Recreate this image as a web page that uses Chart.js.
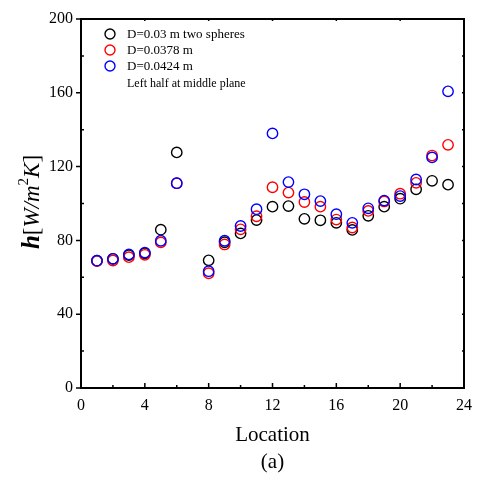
<!DOCTYPE html>
<html><head><meta charset="utf-8">
<script src="https://cdn.jsdelivr.net/npm/chart.js@4.4.0/dist/chart.umd.min.js"></script>
<style>html,body{margin:0;padding:0;background:#fff}#wrap{width:480px;height:477px}</style>
</head><body><div id="wrap"><canvas id="c" width="480" height="477"></canvas></div>
<script>
const locations = [1,2,3,4,5,6,8,9,10,11,12,13,14,15,16,17,18,19,20,21,22,23];
const hTwoSpheres = [69,70,72,73,85.8,127.7,69.2,79,83.8,91,98.3,98.6,91.7,90.9,89.5,85.7,93.3,98.3,102.6,107.7,112.3,110.2];
const h0378 = [68.8,69.1,70.9,72.2,78.9,111,62.2,77.8,86,93.1,108.8,105.9,100.8,98.3,91.3,87,96,101.1,105.3,111.2,126,131.8];
const h0424 = [69,70,72.4,73.4,79.8,111,63.3,79.8,87.8,96.9,138,111.6,105,101.3,94.2,89.5,97.4,101.6,104,113,125,160.8];
const seriesNames = ["D=0.03 m two spheres","D=0.0378 m","D=0.0424 m"];
const seriesColors = ["#000000","#ff0000","#0000ff"];
const legendNote = "Left half at middle plane";
const xTicks = [0,4,8,12,16,20,24];
const yTicks = [0,40,80,120,160,200];

const SERIF = '"Liberation Serif","Times New Roman",serif';
const allSeries = [hTwoSpheres,h0378,h0424];
const datasets = allSeries.map((arr,i)=>({
  label: seriesNames[i],
  data: locations.map((x,j)=>({x:x,y:arr[j]})),
  order: 3-i,
  showLine:false,
  pointStyle:'circle',
  pointRadius:5.2,
  pointBorderWidth:1.4,
  borderColor:seriesColors[i],
  backgroundColor:'rgba(0,0,0,0)',
  pointBackgroundColor:'rgba(0,0,0,0)'
}));

const framePlugin = {
  id:'frame',
  afterDraw(chart){
    const ctx = chart.ctx, a = chart.chartArea;
    const xs = chart.scales.x, ys = chart.scales.y;
    ctx.save();
    ctx.strokeStyle='#000';
    ctx.lineWidth=2;
    ctx.strokeRect(a.left, a.top, a.right-a.left, a.bottom-a.top);
    ctx.lineWidth=1.5;
    ctx.beginPath();
    for(let v=0; v<=24; v+=2){
      const px = xs.getPixelForValue(v);
      const len = (v%4===0)?5:3;
      ctx.moveTo(px,a.bottom); ctx.lineTo(px,a.bottom-len);
      ctx.moveTo(px,a.top); ctx.lineTo(px,a.top+(v%4===0?2:0));
    }
    for(let v=0; v<=200; v+=20){
      const py = ys.getPixelForValue(v);
      if(v%40===0){ ctx.moveTo(a.left,py); ctx.lineTo(a.left-5,py); }
      else { ctx.moveTo(a.left,py); ctx.lineTo(a.left+3,py); }
      ctx.moveTo(a.right,py); ctx.lineTo(a.right-2,py);
    }
    ctx.stroke();

    ctx.textBaseline='middle';
    ctx.font='13px '+SERIF;
    const lx = 110, ly0 = 34, dy = 16;
    seriesNames.forEach((n,i)=>{
      const y = ly0 + i*dy;
      ctx.beginPath();
      ctx.strokeStyle=seriesColors[i];
      ctx.lineWidth=1.4;
      ctx.arc(lx,y,5,0,Math.PI*2);
      ctx.stroke();
      ctx.fillStyle='#000';
      ctx.fillText(n,127,y+1);
    });
    ctx.fillStyle='#000';
    ctx.font='12px '+SERIF;
    ctx.fillText(legendNote,127,ly0+3*dy+2);

    ctx.textAlign='center';
    ctx.textBaseline='middle';
    ctx.font='21px '+SERIF;
    ctx.fillText('Location',(a.left+a.right)/2,435);
    ctx.fillText('(a)',(a.left+a.right)/2,462);

    ctx.save();
    ctx.translate(31,202);
    ctx.rotate(-Math.PI/2);
    ctx.textAlign='left';
    ctx.textBaseline='alphabetic';
    const parts = [
      {t:'h', f:'italic bold 25px '+SERIF, dy:0},
      {t:'[', f:'23px '+SERIF, dy:0},
      {t:'W/m', f:'italic 23px '+SERIF, dy:0},
      {t:'2', f:'15px '+SERIF, dy:-11},
      {t:'K', f:'italic 23px '+SERIF, dy:0},
      {t:']', f:'23px '+SERIF, dy:0}
    ];
    let w=0;
    parts.forEach(p=>{ctx.font=p.f; w+=ctx.measureText(p.t).width;});
    let x=-w/2;
    parts.forEach(p=>{ctx.font=p.f; ctx.fillText(p.t,x,8+p.dy); x+=ctx.measureText(p.t).width;});
    ctx.restore();
    ctx.restore();
  }
};

new Chart(document.getElementById('c'),{
  type:'scatter',
  data:{datasets:datasets},
  options:{
    responsive:false,
    animation:false,
    devicePixelRatio:1,
    layout:{padding:{top:19,right:12,left:0,bottom:0}},
    plugins:{legend:{display:false},tooltip:{enabled:false}},
    scales:{
      x:{
        type:'linear', min:0, max:24,
        afterBuildTicks(s){ s.ticks = xTicks.map(v=>({value:v})); },
        afterFit(s){ s.height = 89; },
        grid:{display:false, drawTicks:false},
        border:{display:false},
        ticks:{color:'#000', font:{family:SERIF,size:16}, padding:8, maxRotation:0}
      },
      y:{
        type:'linear', min:0, max:200,
        afterBuildTicks(s){ s.ticks = yTicks.map(v=>({value:v})); },
        afterFit(s){ s.width = 81; },
        grid:{display:false, drawTicks:false},
        border:{display:false},
        ticks:{color:'#000', font:{family:SERIF,size:16}, padding:8}
      }
    }
  },
  plugins:[framePlugin]
});
</script></body></html>
